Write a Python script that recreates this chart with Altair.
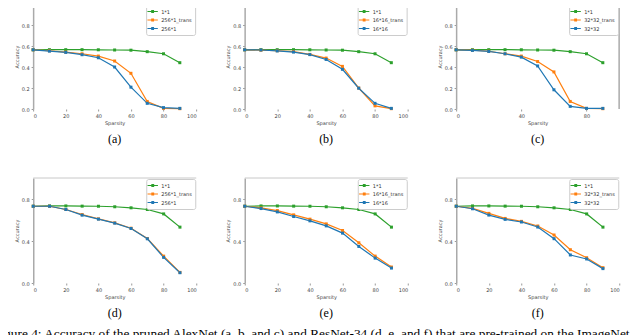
import altair as alt
import pandas as pd

sparsity = [0, 10, 20, 30, 40, 50, 60, 70, 80, 90]

# AlexNet (top row)
alex_1x1 = [0.564, 0.565, 0.565, 0.565, 0.564, 0.562, 0.560, 0.546, 0.526, 0.441]
alex_256_trans = [0.564, 0.555, 0.542, 0.526, 0.504, 0.457, 0.340, 0.072, 0.006, 0.003]
alex_256 = [0.564, 0.551, 0.539, 0.517, 0.488, 0.400, 0.208, 0.054, 0.013, 0.006]
alex_16_trans = [0.564, 0.560, 0.555, 0.547, 0.520, 0.485, 0.406, 0.200, 0.030, 0.003]
alex_16 = [0.564, 0.562, 0.553, 0.542, 0.518, 0.472, 0.378, 0.198, 0.054, 0.006]
alex_32_trans = [0.564, 0.560, 0.550, 0.526, 0.504, 0.452, 0.353, 0.072, 0.006, 0.003]
alex_32 = [0.564, 0.558, 0.548, 0.526, 0.494, 0.410, 0.183, 0.025, 0.006, 0.006]

# ResNet-34 (bottom row)
res_1x1 = [0.731, 0.734, 0.734, 0.732, 0.731, 0.726, 0.716, 0.700, 0.658, 0.532]
res_256_trans = [0.731, 0.731, 0.700, 0.652, 0.611, 0.573, 0.522, 0.424, 0.256, 0.101]
res_256 = [0.731, 0.731, 0.700, 0.646, 0.608, 0.570, 0.519, 0.421, 0.244, 0.098]
res_16_trans = [0.731, 0.715, 0.690, 0.649, 0.608, 0.563, 0.500, 0.383, 0.256, 0.152]
res_16 = [0.731, 0.709, 0.677, 0.633, 0.592, 0.544, 0.475, 0.348, 0.237, 0.142]
res_32_trans = [0.731, 0.710, 0.663, 0.615, 0.587, 0.543, 0.457, 0.317, 0.241, 0.146]
res_32 = [0.731, 0.707, 0.647, 0.606, 0.581, 0.533, 0.422, 0.267, 0.229, 0.137]

x_ticks = [0, 20, 40, 60, 80, 100]
y_ticks = [0.0, 0.2, 0.4, 0.6, 0.8, 1.0]
COLORS = ["#2ca02c", "#ff7f0e", "#1f77b4"]

CAPTION = ("Figure 4: Accuracy of the pruned AlexNet (a, b, and c) and ResNet-34 "
           "(d, e, and f) that are pre-trained on the ImageNet f")

LEGEND_SYMBOL = "M-1.9,0L1.9,0M-0.3,-0.3L0.3,-0.3L0.3,0.3L-0.3,0.3Z"

PW, PH = 163, 105


def panel(letter, names, series, top_spine=False, right_spine=False):
    rows = []
    for name, vals in zip(names, series):
        for x, v in zip(sparsity, vals):
            rows.append({"Sparsity": x, "Accuracy": v, "series": name})
    df = pd.DataFrame(rows)
    lines = alt.Chart(df).mark_line(
        strokeWidth=1.2,
        point=alt.OverlayMarkDef(shape="square", size=9, filled=True),
    ).encode(
        x=alt.X("Sparsity:Q", title="Sparsity",
                scale=alt.Scale(domain=[0, 100], nice=False),
                axis=alt.Axis(values=x_ticks, domain=False, format="d",
                              labelOverlap=False)),
        y=alt.Y("Accuracy:Q", title="Accuracy",
                scale=alt.Scale(domain=[0, 1], nice=False),
                axis=alt.Axis(values=y_ticks, format=".1f", domain=True,
                              domainColor="#aaaaaa", domainWidth=1.5,
                              labelOverlap=False)),
        color=alt.Color("series:N", sort=names,
                        scale=alt.Scale(domain=names, range=COLORS),
                        legend=alt.Legend(title=None)),
    )
    layers = [lines]
    if top_spine:
        layers.append(alt.Chart(pd.DataFrame({"Accuracy": [1.0]})).mark_rule(
            color="#c8c8c8", strokeWidth=1).encode(y="Accuracy:Q"))
    if right_spine:
        layers.append(alt.Chart(pd.DataFrame({"Sparsity": [100]})).mark_rule(
            color="#aaaaaa", strokeWidth=1.5).encode(x="Sparsity:Q"))
    return alt.layer(*layers).properties(
        width=PW, height=PH,
        title=alt.TitleParams(f"({letter})", orient="bottom", font="Liberation Serif",
                              fontSize=12, fontWeight="normal", color="black",
                              offset=9, anchor="middle"),
    )


p_a = panel("a", ["1*1", "256*1_trans", "256*1"], [alex_1x1, alex_256_trans, alex_256])
p_b = panel("b", ["1*1", "16*16_trans", "16*16"], [alex_1x1, alex_16_trans, alex_16])
p_c = panel("c", ["1*1", "32*32_trans", "32*32"], [alex_1x1, alex_32_trans, alex_32], right_spine=True)
p_d = panel("d", ["1*1", "256*1_trans", "256*1"], [res_1x1, res_256_trans, res_256], top_spine=True)
p_e = panel("e", ["1*1", "16*16_trans", "16*16"], [res_1x1, res_16_trans, res_16], top_spine=True)
p_f = panel("f", ["1*1", "32*32_trans", "32*32"], [res_1x1, res_32_trans, res_32], top_spine=True)

row1 = alt.hconcat(p_a, p_b, p_c, spacing=28.5).resolve_scale(color="independent").resolve_legend(color="independent")
row2 = alt.hconcat(p_d, p_e, p_f, spacing=28.5).resolve_scale(color="independent").resolve_legend(color="independent")

cap = alt.Chart(pd.DataFrame({"t": [CAPTION]})).mark_text(
    align="left", baseline="top", font="Liberation Serif", fontSize=13.35,
    color="black", clip=True,
).encode(text="t:N", x=alt.value(-2), y=alt.value(0)).properties(width=663, height=10)

bottom = alt.vconcat(row2, cap, spacing=8, center=True).resolve_scale(color="independent").resolve_legend(color="independent")

chart = alt.vconcat(row1, bottom, spacing=32, center=True).resolve_scale(
    color="independent").resolve_legend(color="independent").properties(
    padding={"left": -13, "top": -6, "right": -26, "bottom": 0}
).configure_view(strokeWidth=0).configure_axis(
    grid=False, labelFont="DejaVu Sans", labelFontSize=5, labelColor="#444444",
    titleFont="DejaVu Sans", titleFontSize=5, titleFontWeight="normal", titleColor="#444444",
    tickColor="#999999", tickSize=2, labelPadding=2, titlePadding=2,
).configure_legend(
    orient="top-right", offset=1, strokeColor="#cccccc", fillColor="white",
    padding=3, cornerRadius=2, labelFont="DejaVu Sans", labelFontSize=5,
    labelColor="#333333", symbolType=LEGEND_SYMBOL, symbolSize=30,
    symbolStrokeWidth=1.2, rowPadding=1.5, labelOffset=5,
)

chart.save("out.html", embed_options={"renderer": "svg", "actions": False})
